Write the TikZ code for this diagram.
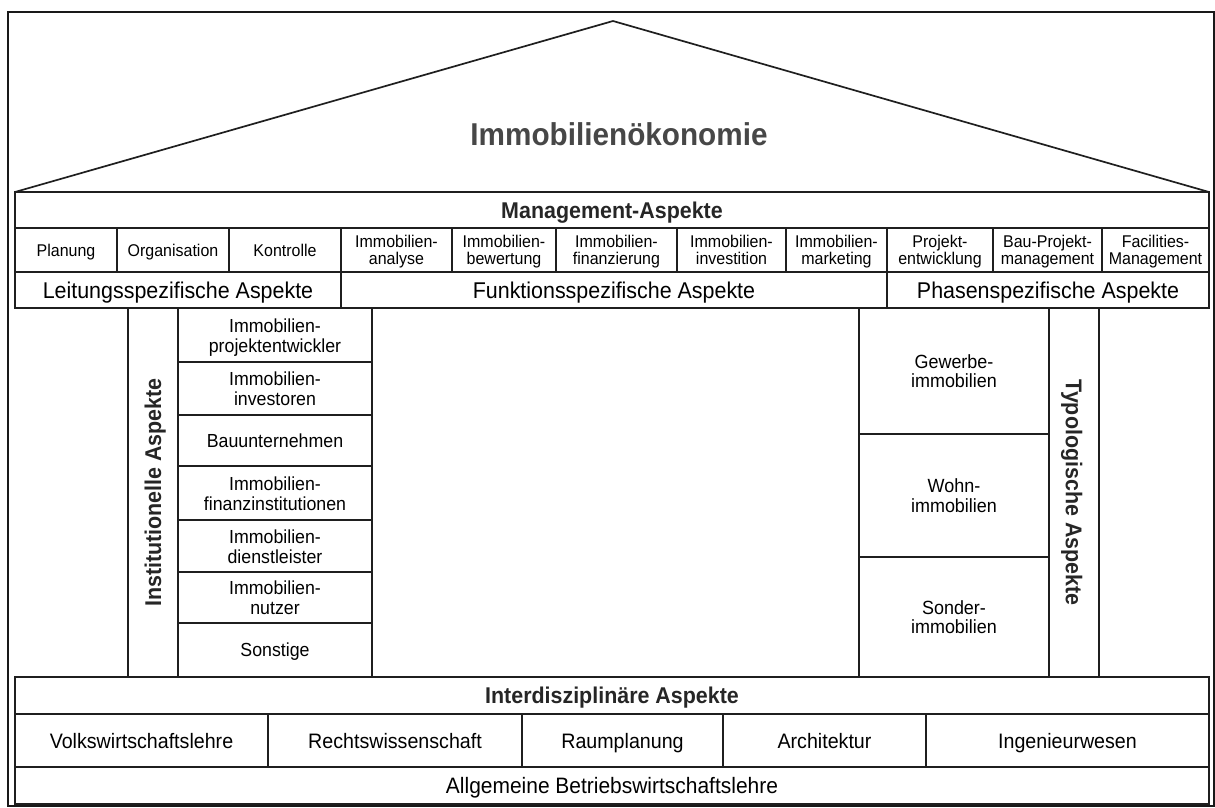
\documentclass[tikz,border=0pt]{standalone}
\usepackage{fontspec}
\setmainfont{Liberation Sans}[FakeStretch=0.94]
% invisible rules: a fixed top for the first line, a fixed bottom for the last one;
% a two-line stack is measured from its last baseline, hence the extra \baselineskip
\newcommand{\topstrut}{\rule{0pt}{0.97em}}
\newcommand{\stackstrut}{\rule{0pt}{\dimexpr 1.0em+\baselineskip\relax}}
\newcommand{\botstrut}{\rule[-0.25em]{0pt}{0pt}}
\newcommand{\place}[6][]{%
  \node[boxcell,#1,minimum width={#4-#2},minimum height={#5-#3}] (#6) at (#2,#3)}
\begin{document}
\begin{tikzpicture}[x=1pt,y=-1pt,
  rule/.style={draw=black!88,line width=1.6pt,line join=miter},
  evenlines/.style={execute at begin node=\topstrut,execute at end node=\botstrut},
  stack/.style={execute at end node=\stackstrut},
  boxcell/.style={rule,anchor=north west,inner sep=0pt,outer sep=0pt,align=center,
    font=\fontsize{17}{17}\selectfont,evenlines},
  headrow/.style={font=\fontsize{22.8}{24}\selectfont\bfseries,text=black!85},
  aspectrow/.style={font=\fontsize{22.8}{24}\selectfont},
  actor/.style={font=\fontsize{18.9}{20}\selectfont},
  kind/.style={font=\fontsize{19.1}{19.5}\selectfont},
  discipline/.style={font=\fontsize{20.9}{22}\selectfont},
  basis/.style={font=\fontsize{22.3}{24}\selectfont},
  pillar/.style={rule,inner sep=0pt,anchor=center,minimum width=369,minimum height=50,
    font=\fontsize{22.8}{24}\selectfont\bfseries,text=black!85,evenlines},
  roofline/.style={draw=black!88,line width=1.7pt,line join=miter},
  title/.style={font=\fontsize{31.6}{34}\selectfont\bfseries,text=black!72,anchor=base}
]
\useasboundingbox (0,0) rectangle (1215,807);

% outer frame
\draw[draw=black!90,line width=2pt] (8,12) rectangle (1214,806);

% roof
\coordinate (roofL) at (15,192);
\coordinate (apex) at (613,21);
\coordinate (roofR) at (1209,192);
\draw[roofline] (roofL) -- (apex) -- (roofR);
\node[title] (ttl) at (619,145) {Immobilienökonomie};

% management block
\place[headrow]{15}{192}{1209}{228}{mgmt}{Management-Aspekte};
\place{15}{228}{117}{272}{plan}{Planung};
\place{117}{228}{229}{272}{orga}{Organisation};
\place{229}{228}{341}{272}{ktrl}{Kontrolle};
\place[stack]{341}{228}{452}{272}{ana}{Immobilien-\\analyse};
\place[stack]{452}{228}{556}{272}{bew}{Immobilien-\\bewertung};
\place[stack]{556}{228}{677}{272}{fin}{Immobilien-\\finanzierung};
\place[stack]{677}{228}{786}{272}{inv}{Immobilien-\\investition};
\place[stack]{786}{228}{887}{272}{mkt}{Immobilien-\\marketing};
\place[stack]{887}{228}{993}{272}{pe}{Projekt-\\entwicklung};
\place[stack]{993}{228}{1102}{272}{bpm}{Bau-Projekt-\\management};
\place[stack]{1102}{228}{1209}{272}{fm}{Facilities-\\Management};
\place[aspectrow]{15}{272}{341}{308}{leit}{Leitungsspezifische Aspekte};
\place[aspectrow]{341}{272}{887}{308}{funk}{Funktionsspezifische Aspekte};
\place[aspectrow]{887}{272}{1209}{308}{phas}{Phasenspezifische Aspekte};

% institutional pillar
\node[pillar,rotate=90] (inst) at (153,492.5) {Institutionelle Aspekte};
\place[actor,stack]{178}{308}{372}{362}{a1}{Immobilien-\\projektentwickler};
\place[actor,stack]{178}{362}{372}{415}{a2}{Immobilien-\\investoren};
\place[actor]{178}{415}{372}{466}{a3}{Bauunternehmen};
\place[actor,stack]{178}{466}{372}{520}{a4}{Immobilien-\\finanzinstitutionen};
\place[actor,stack]{178}{520}{372}{572}{a5}{Immobilien-\\dienstleister};
\place[actor,stack]{178}{572}{372}{623}{a6}{Immobilien-\\nutzer};
\place[actor]{178}{623}{372}{677}{a7}{Sonstige};

% typological pillar
\place[kind,stack]{859}{308}{1049}{434}{t1}{Gewerbe-\\immobilien};
\place[kind,stack]{859}{434}{1049}{557}{t2}{Wohn-\\immobilien};
\place[kind,stack]{859}{557}{1049}{677}{t3}{Sonder-\\immobilien};
\node[pillar,rotate=-90] (typ) at (1074,492.5) {Typologische Aspekte};

% interdisciplinary foundation
\place[headrow]{15}{677}{1209}{714}{inter}{Interdisziplinäre Aspekte};
\place[discipline]{15}{714}{268}{767}{vwl}{Volkswirtschaftslehre};
\place[discipline]{268}{714}{522}{767}{rw}{Rechtswissenschaft};
\place[discipline]{522}{714}{723}{767}{rp}{Raumplanung};
\place[discipline]{723}{714}{926}{767}{arch}{Architektur};
\place[discipline]{926}{714}{1209}{767}{ing}{Ingenieurwesen};
\place[basis]{15}{767}{1209}{804}{bwl}{Allgemeine Betriebswirtschaftslehre};
\end{tikzpicture}
\end{document}
